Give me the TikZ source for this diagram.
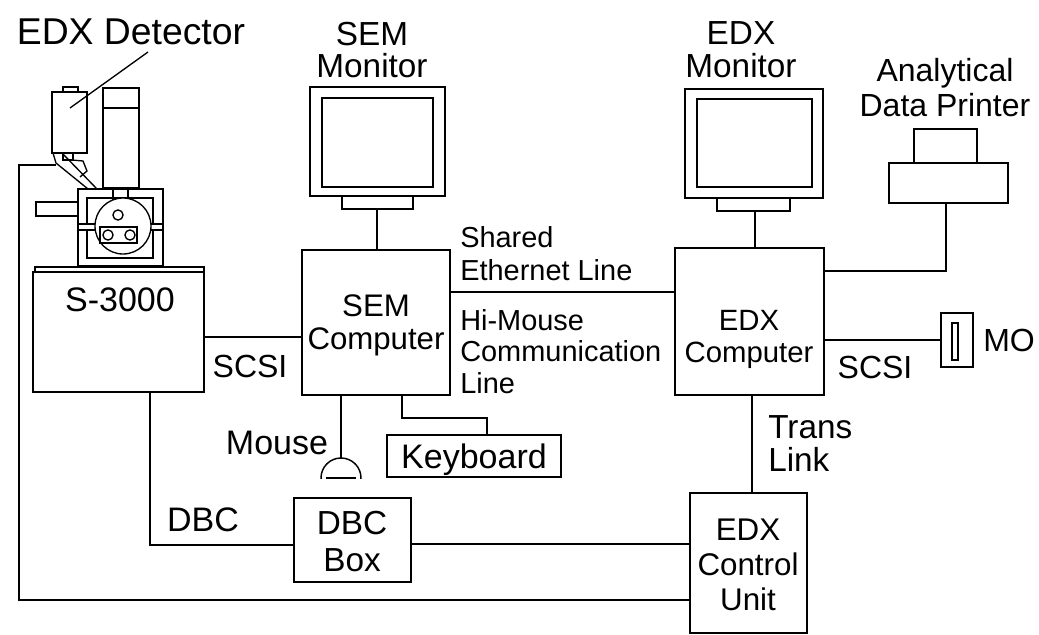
\documentclass[tikz,border=0pt]{standalone}
\usepackage{fontspec}
\setmainfont{Liberation Sans}
\newcommand\lblsize[2]{\fontsize{#1}{#2}\selectfont}
% rectangle node given by its corners (x1,y1) and (x2,y2)
\newcommand\boxnode[6][]{%
  \node[box,#1,minimum width={(#5-#3)*0.75pt},minimum height={(#6-#4)*0.75pt}]
    (#2) at ({(#3+#5)/2},{(#4+#6)/2}) {};}
\begin{document}
\begin{tikzpicture}[x=0.75pt,y=-0.75pt,
  wire/.style={line width=1.6pt,line join=miter},
  thin/.style={line width=1.0pt},
  box/.style={draw,line width=1.6pt,inner sep=0pt,rectangle},
  lbl/.style={inner sep=0pt,align=center},
]
\useasboundingbox (0,0) rectangle (1039,635);

% ---------- microscope with EDX detector ----------
\draw[thin] (52,92) rectangle (87,153);          % detector body
\draw[thin] (63,87) rectangle (78,92);           % detector cap
\draw[thin] (63,153) rectangle (73,160);         % nozzle
\draw[thin] (72,160) -- (83,161) -- (87,171) -- (80,177);
\draw[thin] (53,153) -- (56,163) -- (88,189);    % probe
\draw[thin] (62,153) -- (97,189);
\draw[thin] (103,88) rectangle (139,188);        % column
\draw[thin] (103,108) -- (139,108);
\draw[thin] (36,202) rectangle (78,216);         % side arm
\draw[thin] (78,189) rectangle (163,266);        % chamber
\draw[thin] (87,198) rectangle (153,258);
\draw[thin] (113,189) rectangle (128,201);
\draw[thin,fill=white] (78,224) rectangle (163,230); % stage rail
\draw[thin,fill=white] (123,226) circle[radius=21pt];
\draw[thin] (118,215) circle[radius=3.8pt];
\draw[thin] (100,227) -- (100,243) -- (137,243) -- (137,227) -- cycle;
\draw[thin] (108,235) circle[radius=3.8pt];
\draw[thin] (130,235) circle[radius=3.8pt];
\draw[thin] (35,267) rectangle (204,272);        % base plate
\coordinate (probe) at (56,165);
\draw[thin] (70,108) -- (148,52);                % leader to label

% ---------- boxes ----------
\boxnode{s3000}{33}{272}{204}{392}
\boxnode{semc}{302}{250}{450}{395}
\boxnode{edxc}{675}{248}{824}{395}
\boxnode{kb}{387}{435}{561}{477}
\boxnode{dbc}{294}{498}{411}{582}
\boxnode{ecu}{690}{493}{807}{633}
\boxnode{mo}{941}{313}{973}{367}
\draw[thin] (952,323) rectangle (958,360);

% monitors
\boxnode[line width=1.0pt]{smon}{310}{87}{445}{196}
\draw[line width=1.3pt] (322,98) rectangle (433,187);
\boxnode{smonst}{342}{196}{413}{209}
\boxnode[line width=1.8pt]{emon}{685}{89}{823}{198}
\draw[line width=1.8pt] (697,99) rectangle (812,187);
\boxnode{emonst}{717}{198}{790}{211}

% printer
\boxnode[line width=1.1pt]{prn}{889}{163}{1008}{203}
\draw[line width=1.1pt] (914,129) rectangle (977,163);

% mouse
\coordinate (mousetop) at (341,458);
\begin{scope}
  \clip (315,440) rectangle (370,478);
  \draw[line width=1.1pt] (341,478) circle[radius=15pt];
\end{scope}
\draw[line width=1.1pt] (326,478) -- (356,478);

% ---------- connectors ----------
\draw[wire] (smonst.south -| 377,0) -- (semc.north -| 377,0);
\draw[wire] (emonst.south -| 755,0) -- (edxc.north -| 755,0);
\draw[wire] (s3000.east |- 0,337) -- (semc.west |- 0,337);
\draw[wire] (semc.east |- 0,292) -- (edxc.west |- 0,292);
\draw[wire] (edxc.east |- 0,271) -| (prn.south -| 946,0);
\draw[wire] (edxc.east |- mo.west) -- (mo.west);
\draw[wire] (edxc.south -| 752,0) -- (ecu.north -| 752,0);
\draw[line width=1.1pt] (semc.south -| mousetop) -- (mousetop);
\coordinate (kbj) at (402,418);
\draw[wire] (semc.south -| kbj) -- (kbj) -| (kb.north -| 487,0);
\coordinate (dbcj) at (150,545);
\draw[wire] (s3000.south -| dbcj) -- (dbcj) -- (dbcj -| dbc.west);
\draw[wire] (dbc.east |- 0,544) -- (ecu.west |- 0,544);
\coordinate (loopt) at (19,165);
\coordinate (loopb) at (19,600);
\draw[wire] (probe) -- (loopt) -- (loopb) -- (loopb -| ecu.west);

% ---------- labels ----------
\node[lbl,font=\lblsize{28}{30}] (tdet) at (131,32) {EDX Detector};
\node[lbl,font=\lblsize{25}{24.5}] (tsmon) at (372,50) {SEM\\Monitor};
\node[lbl,font=\lblsize{25}{24.5}] (temon) at (741,50) {EDX\\Monitor};
\node[lbl,font=\lblsize{24}{26}] (tprn) at (945,87.5) {Analytical\\Data Printer};
\node[lbl,font=\lblsize{25.5}{26}] (ts3000) at (120,300) {S-3000};
\node[lbl,font=\lblsize{24}{26}] (tscsi1) at (250,366) {SCSI};
\node[lbl,font=\lblsize{23.4}{24.75}] (tsemc) at (376,325) {SEM\\Computer};
\node[lbl,align=left,anchor=west,font=\lblsize{21.7}{24.75}] (teth) at (460,253.5) {Shared\\Ethernet Line};
\node[lbl,align=left,anchor=west,font=\lblsize{21.7}{23.6}] (thim) at (460,351.5) {Hi-Mouse\\Communication\\Line};
\node[lbl,font=\lblsize{22}{24}] (tedxc) at (749,339.5) {EDX\\Computer};
\node[lbl,font=\lblsize{24}{26}] (tscsi2) at (875,367) {SCSI};
\node[lbl,anchor=west,font=\lblsize{24}{26}] (tmo) at (983,340) {MO};
\node[lbl,align=left,anchor=west,font=\lblsize{25}{24.75}] (ttrans) at (768,443.5) {Trans\\Link};
\node[lbl,font=\lblsize{25.5}{26}] (tmouse) at (277,443) {Mouse};
\node[lbl,font=\lblsize{25.5}{26}] (tkb) at (474,459.5) {Keyboard};
\node[lbl,font=\lblsize{25.5}{26}] (tdbc) at (203,520) {DBC};
\node[lbl,font=\lblsize{25}{27.75}] (tdbcb) at (352,541.5) {DBC\\Box};
\node[lbl,font=\lblsize{23.5}{26}] (tecu) at (748,565) {EDX\\Control\\Unit};
\end{tikzpicture}
\end{document}
